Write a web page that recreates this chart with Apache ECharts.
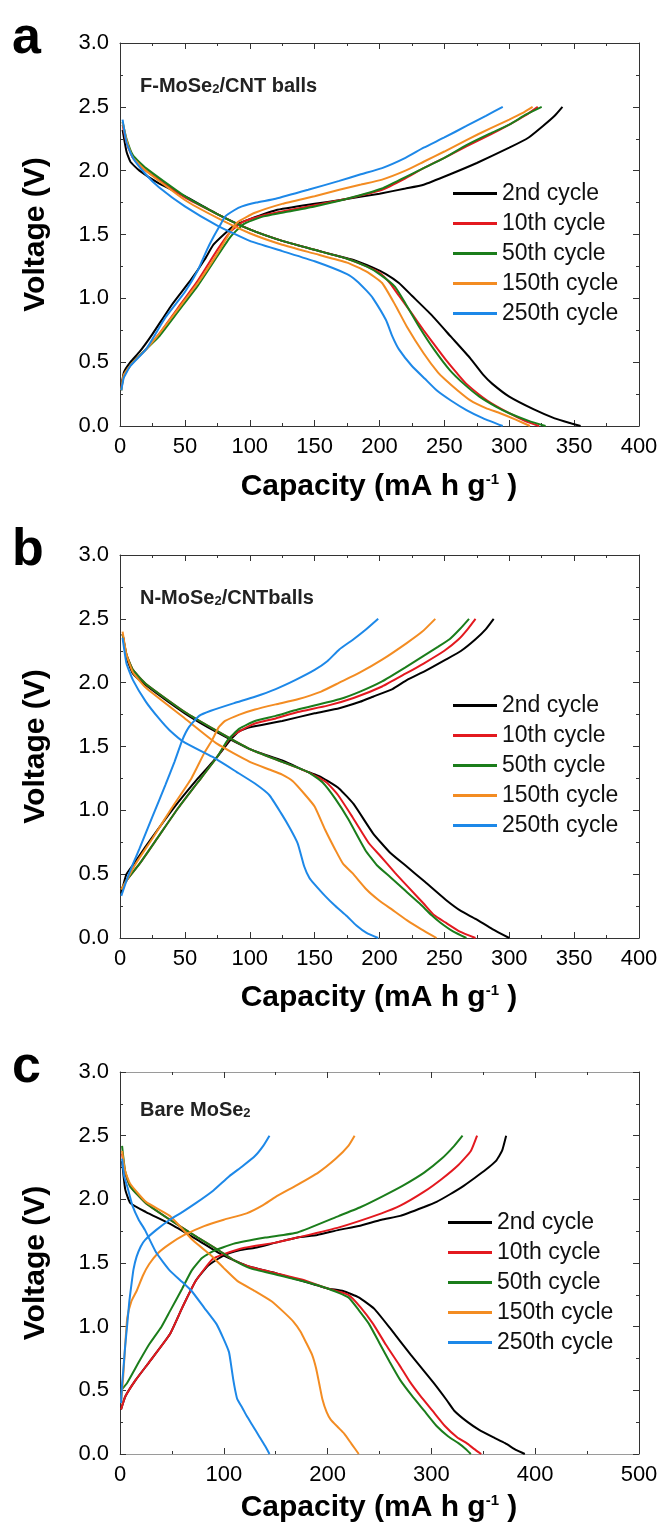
<!DOCTYPE html>
<html>
<head>
<meta charset="utf-8">
<script src="https://cdn.jsdelivr.net/npm/echarts@6/dist/echarts.min.js"></script>
<style>
  html, body { margin: 0; padding: 0; background: #fff; }
  #chart { width: 665px; height: 1531px; }
</style>
</head>
<body>
<div id="chart"></div>
<script>
// legend names and colours
const cycles = ["2nd cycle", "10th cycle", "50th cycle", "150th cycle", "250th cycle"];
const cycleColors = ["#000000", "#e3191f", "#1b7d1b", "#f38c22", "#1d88e8"];
const yTicks = [0, 0.5, 1.0, 1.5, 2.0, 2.5, 3.0];

// ---- panel a : F-MoSe2/CNT balls  [capacity, voltage] ----
const a_c2 = [[1,0.3],[3,0.42],[8,0.5],[15,0.58],[25,0.72],[40,0.95],[55,1.15],[65,1.3],[72,1.42],[80,1.5],[88,1.57],[100,1.62],[120,1.69],[150,1.74],[170,1.77],[200,1.82],[220,1.86],[234,1.89],[254,1.97],[275,2.06],[300,2.18],[315,2.26],[326,2.35],[335,2.43],[341,2.5]];
const a_d2 = [[2,2.32],[5,2.15],[8,2.07],[15,2.0],[30,1.9],[50,1.8],[75,1.66],[100,1.54],[125,1.45],[150,1.38],[165,1.34],[180,1.3],[195,1.24],[205,1.19],[215,1.12],[225,1.02],[240,0.87],[255,0.7],[270,0.53],[280,0.4],[287,0.33],[300,0.23],[319,0.13],[335,0.06],[348,0.02],[355,0]];
const a_c10 = [[1,0.3],[3,0.4],[10,0.5],[20,0.6],[30,0.72],[45,0.93],[60,1.14],[75,1.38],[85,1.52],[95,1.6],[110,1.65],[130,1.69],[150,1.73],[175,1.78],[202,1.85],[220,1.94],[234,2.02],[250,2.1],[267,2.19],[285,2.28],[300,2.36],[312,2.43],[322,2.5]];
const a_d10 = [[2,2.36],[5,2.22],[10,2.1],[20,2.0],[50,1.79],[75,1.66],[100,1.54],[125,1.45],[150,1.38],[175,1.31],[190,1.25],[200,1.2],[208,1.12],[215,1.02],[225,0.88],[234,0.75],[245,0.6],[251,0.52],[260,0.41],[267,0.33],[283,0.2],[300,0.1],[312,0.04],[323,0]];
const a_c50 = [[1,0.28],[3,0.4],[10,0.5],[20,0.6],[30,0.7],[45,0.9],[60,1.1],[75,1.33],[85,1.48],[95,1.58],[110,1.64],[130,1.68],[150,1.72],[175,1.78],[202,1.86],[220,1.95],[234,2.02],[250,2.1],[267,2.2],[285,2.29],[300,2.36],[313,2.44],[325,2.5]];
const a_d50 = [[2,2.38],[5,2.25],[10,2.12],[20,2.02],[50,1.8],[75,1.66],[100,1.54],[125,1.45],[150,1.38],[175,1.31],[190,1.25],[200,1.19],[212,1.09],[220,0.96],[231,0.77],[242,0.6],[254,0.44],[265,0.33],[277,0.23],[290,0.15],[300,0.1],[315,0.04],[328,0]];
const a_c150 = [[1,0.28],[3,0.4],[10,0.5],[20,0.6],[30,0.72],[45,0.92],[60,1.12],[75,1.35],[85,1.52],[91,1.6],[104,1.67],[125,1.74],[150,1.8],[169,1.85],[185,1.89],[202,1.93],[220,2.0],[234,2.07],[250,2.15],[267,2.24],[285,2.33],[300,2.4],[310,2.45],[318,2.5]];
const a_d150 = [[2,2.38],[5,2.24],[10,2.1],[20,2.0],[50,1.77],[75,1.63],[100,1.51],[125,1.42],[150,1.35],[175,1.28],[190,1.21],[202,1.12],[212,0.95],[221,0.78],[234,0.57],[245,0.42],[251,0.36],[260,0.28],[270,0.2],[282,0.14],[293,0.1],[305,0.05],[316,0]];
const a_c250 = [[1,0.28],[3,0.38],[8,0.47],[20,0.6],[35,0.85],[50,1.05],[60,1.22],[67,1.38],[72,1.48],[77,1.57],[81,1.64],[88,1.69],[94,1.72],[105,1.75],[120,1.78],[145,1.85],[169,1.92],[185,1.97],[202,2.02],[220,2.1],[234,2.18],[250,2.26],[267,2.35],[282,2.43],[295,2.5]];
const a_d250 = [[2,2.4],[5,2.22],[10,2.1],[20,1.97],[30,1.87],[50,1.72],[75,1.57],[100,1.45],[125,1.37],[150,1.29],[175,1.19],[182,1.14],[190,1.06],[195,1.0],[205,0.83],[210,0.7],[215,0.6],[225,0.47],[235,0.37],[244,0.28],[255,0.2],[267,0.125],[280,0.06],[295,0]];

// ---- panel b : N-MoSe2/CNTballs ----
const b_c2 = [[1,0.35],[5,0.5],[12,0.6],[20,0.72],[40,1.0],[60,1.25],[75,1.42],[85,1.55],[92,1.62],[100,1.65],[125,1.7],[150,1.76],[169,1.8],[185,1.85],[195,1.89],[210,1.95],[221,2.02],[235,2.09],[251,2.18],[263,2.25],[274,2.34],[282,2.42],[288,2.5]];
const b_d2 = [[2,2.38],[5,2.2],[10,2.07],[20,1.98],[50,1.76],[75,1.61],[100,1.48],[125,1.39],[145,1.3],[153,1.27],[160,1.23],[169,1.17],[180,1.05],[195,0.82],[208,0.67],[221,0.56],[235,0.44],[251,0.3],[263,0.21],[274,0.15],[287,0.07],[300,0]];
const b_c10 = [[1,0.38],[5,0.45],[15,0.58],[30,0.8],[45,1.02],[60,1.22],[75,1.42],[85,1.57],[94,1.63],[104,1.68],[120,1.72],[137,1.77],[160,1.82],[180,1.88],[202,1.97],[220,2.07],[234,2.15],[250,2.25],[261,2.34],[268,2.42],[274,2.5]];
const b_d10 = [[2,2.38],[5,2.22],[10,2.1],[20,1.99],[50,1.77],[75,1.62],[100,1.48],[125,1.38],[145,1.3],[159,1.22],[168,1.12],[179,0.95],[192,0.74],[200,0.65],[212,0.51],[222,0.4],[234,0.27],[242,0.18],[251,0.12],[262,0.05],[274,0]];
const b_c50 = [[1,0.38],[5,0.45],[15,0.58],[30,0.8],[45,1.02],[60,1.22],[75,1.42],[83,1.55],[92,1.64],[104,1.7],[120,1.74],[137,1.79],[169,1.87],[185,1.93],[202,2.01],[220,2.12],[234,2.21],[245,2.28],[254,2.34],[262,2.42],[269,2.5]];
const b_d50 = [[2,2.38],[5,2.22],[10,2.1],[20,1.99],[50,1.77],[75,1.62],[100,1.48],[125,1.38],[145,1.3],[156,1.22],[166,1.09],[176,0.93],[189,0.69],[198,0.57],[208,0.48],[220,0.37],[231,0.27],[240,0.18],[247,0.12],[257,0.05],[267,0]];
const b_c150 = [[1,0.38],[5,0.45],[12,0.58],[25,0.78],[40,1.02],[55,1.25],[65,1.45],[71,1.55],[76,1.65],[81,1.7],[92,1.75],[104,1.79],[120,1.83],[137,1.87],[155,1.93],[169,2.0],[185,2.08],[202,2.18],[221,2.31],[233,2.4],[243,2.5]];
const b_d150 = [[2,2.4],[5,2.22],[10,2.08],[20,1.96],[50,1.72],[75,1.52],[100,1.38],[115,1.32],[125,1.28],[133,1.23],[142,1.13],[150,1.03],[158,0.85],[166,0.69],[172,0.58],[179,0.51],[190,0.38],[199,0.3],[210,0.22],[221,0.14],[232,0.07],[244,0]];
const b_c250 = [[1,0.33],[5,0.45],[10,0.58],[15,0.7],[25,0.95],[35,1.2],[42,1.38],[48,1.55],[53,1.65],[61,1.74],[70,1.78],[88,1.84],[104,1.89],[120,1.95],[135,2.02],[150,2.1],[160,2.17],[169,2.26],[180,2.34],[190,2.42],[199,2.5]];
const b_d250 = [[2,2.35],[5,2.15],[10,2.02],[20,1.85],[30,1.72],[38,1.63],[50,1.53],[71,1.42],[90,1.3],[104,1.21],[115,1.12],[124,0.98],[131,0.86],[137,0.74],[142,0.56],[146,0.47],[150,0.42],[158,0.33],[166,0.25],[175,0.17],[182,0.1],[190,0.04],[199,0]];

// ---- panel c : Bare MoSe2 ----
const c_c2 = [[1,0.35],[5,0.45],[15,0.58],[28,0.72],[48,0.94],[60,1.15],[73,1.36],[85,1.48],[100,1.56],[115,1.6],[130,1.62],[150,1.66],[171,1.7],[190,1.72],[211,1.76],[230,1.79],[252,1.84],[270,1.87],[293,1.94],[305,1.98],[318,2.04],[330,2.1],[342,2.17],[352,2.23],[362,2.3],[368,2.38],[372,2.5]];
const c_d2 = [[2,2.3],[5,2.08],[10,1.97],[25,1.9],[50,1.8],[75,1.68],[95,1.58],[110,1.52],[125,1.47],[150,1.42],[175,1.36],[200,1.3],[215,1.28],[230,1.23],[245,1.14],[260,0.99],[280,0.78],[302,0.56],[315,0.42],[322,0.34],[335,0.25],[346,0.19],[360,0.13],[371,0.085],[382,0.03],[390,0]];
const c_c10 = [[1,0.35],[5,0.45],[15,0.58],[28,0.72],[48,0.94],[60,1.15],[73,1.36],[89,1.53],[100,1.57],[120,1.62],[150,1.66],[171,1.7],[211,1.78],[252,1.89],[270,1.95],[293,2.06],[310,2.16],[326,2.27],[338,2.38],[344,2.5]];
const c_d10 = [[2,2.36],[5,2.2],[10,2.1],[25,1.97],[50,1.83],[75,1.7],[95,1.6],[110,1.52],[125,1.47],[150,1.42],[175,1.37],[200,1.3],[220,1.25],[232,1.15],[244,1.02],[256,0.86],[269,0.7],[279,0.57],[289,0.46],[301,0.34],[313,0.22],[325,0.13],[334,0.085],[341,0.04],[348,0]];
const c_c50 = [[1,0.5],[7,0.56],[18,0.72],[28,0.86],[40,1.0],[48,1.12],[60,1.3],[69,1.44],[79,1.54],[89,1.59],[109,1.65],[140,1.7],[171,1.74],[211,1.87],[232,1.94],[252,2.02],[273,2.11],[293,2.21],[310,2.32],[322,2.42],[330,2.5]];
const c_d50 = [[2,2.42],[5,2.22],[10,2.1],[25,1.97],[50,1.83],[75,1.7],[95,1.6],[110,1.52],[125,1.46],[150,1.41],[175,1.36],[200,1.3],[220,1.23],[230,1.13],[240,1.02],[250,0.87],[260,0.72],[270,0.58],[281,0.46],[293,0.34],[305,0.22],[316,0.14],[326,0.085],[333,0.04],[338,0]];
const c_c150 = [[1,0.4],[3,0.6],[5,0.85],[7,1.07],[11,1.2],[16,1.28],[22,1.4],[28,1.49],[37,1.58],[48,1.65],[62,1.72],[81,1.79],[100,1.84],[122,1.89],[137,1.95],[150,2.02],[170,2.11],[191,2.21],[208,2.32],[220,2.42],[226,2.5]];
const c_d150 = [[2,2.38],[5,2.22],[10,2.12],[25,1.98],[48,1.87],[70,1.68],[89,1.55],[100,1.46],[113,1.36],[130,1.28],[146,1.2],[157,1.12],[167,1.04],[174,0.96],[179,0.88],[185,0.78],[189,0.67],[192,0.55],[195,0.43],[199,0.33],[203,0.27],[210,0.21],[216,0.16],[223,0.08],[230,0]];
const c_c250 = [[1,0.4],[2,0.55],[3,0.64],[5,0.85],[7,1.02],[9,1.2],[11,1.33],[13,1.45],[16,1.55],[20,1.63],[24,1.68],[35,1.76],[48,1.84],[60,1.9],[73,1.97],[90,2.07],[105,2.18],[118,2.26],[130,2.34],[138,2.42],[144,2.5]];
const c_d250 = [[2,2.32],[4,2.18],[7,2.1],[12,1.95],[18,1.84],[24,1.76],[35,1.58],[48,1.44],[60,1.35],[69,1.28],[81,1.15],[93,1.02],[100,0.9],[105,0.8],[107,0.7],[109,0.59],[111,0.5],[113,0.43],[118,0.36],[122,0.3],[128,0.22],[134,0.14],[140,0.06],[144,0]];

const FONT = "'Liberation Sans', Arial, sans-serif";

const panels = [
  { label: "a", name: "F-MoSe", tail: "/CNT balls", top: 43, height: 383, xMax: 400, xStep: 50,
    frameTB: "#333", frameLR: "#333", legendTop: 182, legendLeft: 453, annoY: 86, capY: 487,
    curves: [[a_c2, a_d2], [a_c10, a_d10], [a_c50, a_d50], [a_c150, a_d150], [a_c250, a_d250]] },
  { label: "b", name: "N-MoSe", tail: "/CNTballs", top: 555, height: 383, xMax: 400, xStep: 50,
    frameTB: "#333", frameLR: "#333", legendTop: 694, legendLeft: 453, annoY: 598, capY: 998,
    curves: [[b_c2, b_d2], [b_c10, b_d10], [b_c50, b_d50], [b_c150, b_d150], [b_c250, b_d250]] },
  { label: "c", name: "Bare MoSe", tail: "", top: 1072, height: 382, xMax: 500, xStep: 100,
    frameTB: "#9a9a9a", frameLR: "#333", legendTop: 1211, legendLeft: 448, annoY: 1110, capY: 1508,
    curves: [[c_c2, c_d2], [c_c10, c_d10], [c_c50, c_d50], [c_c150, c_d150], [c_c250, c_d250]] }
];

const grid = [], xAxis = [], yAxis = [], series = [], legend = [], graphic = [];

function tickStyle(color) {
  return {
    axisLine: { show: true, onZero: false, lineStyle: { color: color, width: 1 } },
    axisTick: { show: true, inside: true, length: 6, lineStyle: { color: "#333" } },
    minorTick: { show: true, splitNumber: 2, length: 3, lineStyle: { color: "#333" } },
    splitLine: { show: false }
  };
}

panels.forEach(function (p, gi) {
  grid.push({ left: 120, top: p.top, width: 519, height: p.height, show: false });

  // bottom / top x axes
  xAxis.push(Object.assign({
    type: "value", gridIndex: gi, position: "bottom", min: 0, max: p.xMax, interval: p.xStep,
    axisLabel: { fontSize: 22, color: "#000", fontFamily: FONT, margin: 10 }
  }, tickStyle(p.frameTB)));
  xAxis.push(Object.assign({
    type: "value", gridIndex: gi, position: "top", min: 0, max: p.xMax, interval: p.xStep,
    axisLabel: { show: false }
  }, tickStyle(p.frameTB)));

  // left / right y axes
  yAxis.push(Object.assign({
    type: "value", gridIndex: gi, position: "left", min: yTicks[0], max: yTicks[yTicks.length - 1], interval: 0.5,
    axisLabel: { fontSize: 22, color: "#000", fontFamily: FONT, margin: 11,
      formatter: function (v) { return v.toFixed(1); } }
  }, tickStyle(p.frameLR)));
  yAxis.push(Object.assign({
    type: "value", gridIndex: gi, position: "right", min: 0, max: 3, interval: 0.5,
    axisLabel: { show: false }
  }, tickStyle(p.frameLR)));

  p.curves.forEach(function (pair, ci) {
    pair.forEach(function (d) {
      series.push({
        name: cycles[ci], type: "line", xAxisIndex: gi * 2, yAxisIndex: gi * 2,
        data: d, showSymbol: false, symbol: "none", smooth: 0.15,
        lineStyle: { color: cycleColors[ci], width: 2 },
        itemStyle: { color: cycleColors[ci] },
        z: 2 + ci
      });
    });
  });

  legend.push({
    data: cycles.map(function (n) { return { name: n, icon: "rect" }; }),
    orient: "vertical", left: p.legendLeft, top: p.legendTop, padding: 0,
    itemWidth: 44, itemHeight: 3, itemGap: 7, selectedMode: false,
    textStyle: { fontSize: 23, lineHeight: 22, color: "#111", fontFamily: FONT }
  });

  const midY = p.top + p.height / 2;

  // panel letter
  graphic.push({ type: "text", left: 12, top: p.top - 30,
    style: { text: p.label, font: "bold 52px " + FONT, fill: "#000" } });

  // sample annotation with subscript 2
  graphic.push({ type: "text", x: 140, y: p.annoY,
    style: { text: p.name + "{sub|2}" + p.tail, font: "bold 20px " + FONT, fill: "#222",
      textVerticalAlign: "middle",
      rich: { sub: { fontSize: 13, fontWeight: "bold", fontFamily: FONT, fill: "#222", verticalAlign: "bottom" } } } });

  // axis titles
  graphic.push({ type: "text", x: 379, y: p.capY,
    style: { text: "Capacity (mA h g{sup|-1} )", font: "bold 30px " + FONT, fill: "#000",
      textAlign: "center", textVerticalAlign: "middle",
      rich: { sup: { fontSize: 15, fontWeight: "bold", fontFamily: FONT, fill: "#000", verticalAlign: "top" } } } });
  graphic.push({ type: "text", x: 36, y: midY, rotation: Math.PI / 2,
    style: { text: "Voltage (V)", font: "bold 30px " + FONT, fill: "#000",
      textAlign: "center", textVerticalAlign: "middle" } });
});

const chart = echarts.init(document.getElementById("chart"), null, { renderer: "canvas" });
chart.setOption({
  backgroundColor: "#fff",
  animation: false,
  grid: grid,
  xAxis: xAxis,
  yAxis: yAxis,
  legend: legend,
  series: series,
  graphic: graphic
});
</script>
</body>
</html>
